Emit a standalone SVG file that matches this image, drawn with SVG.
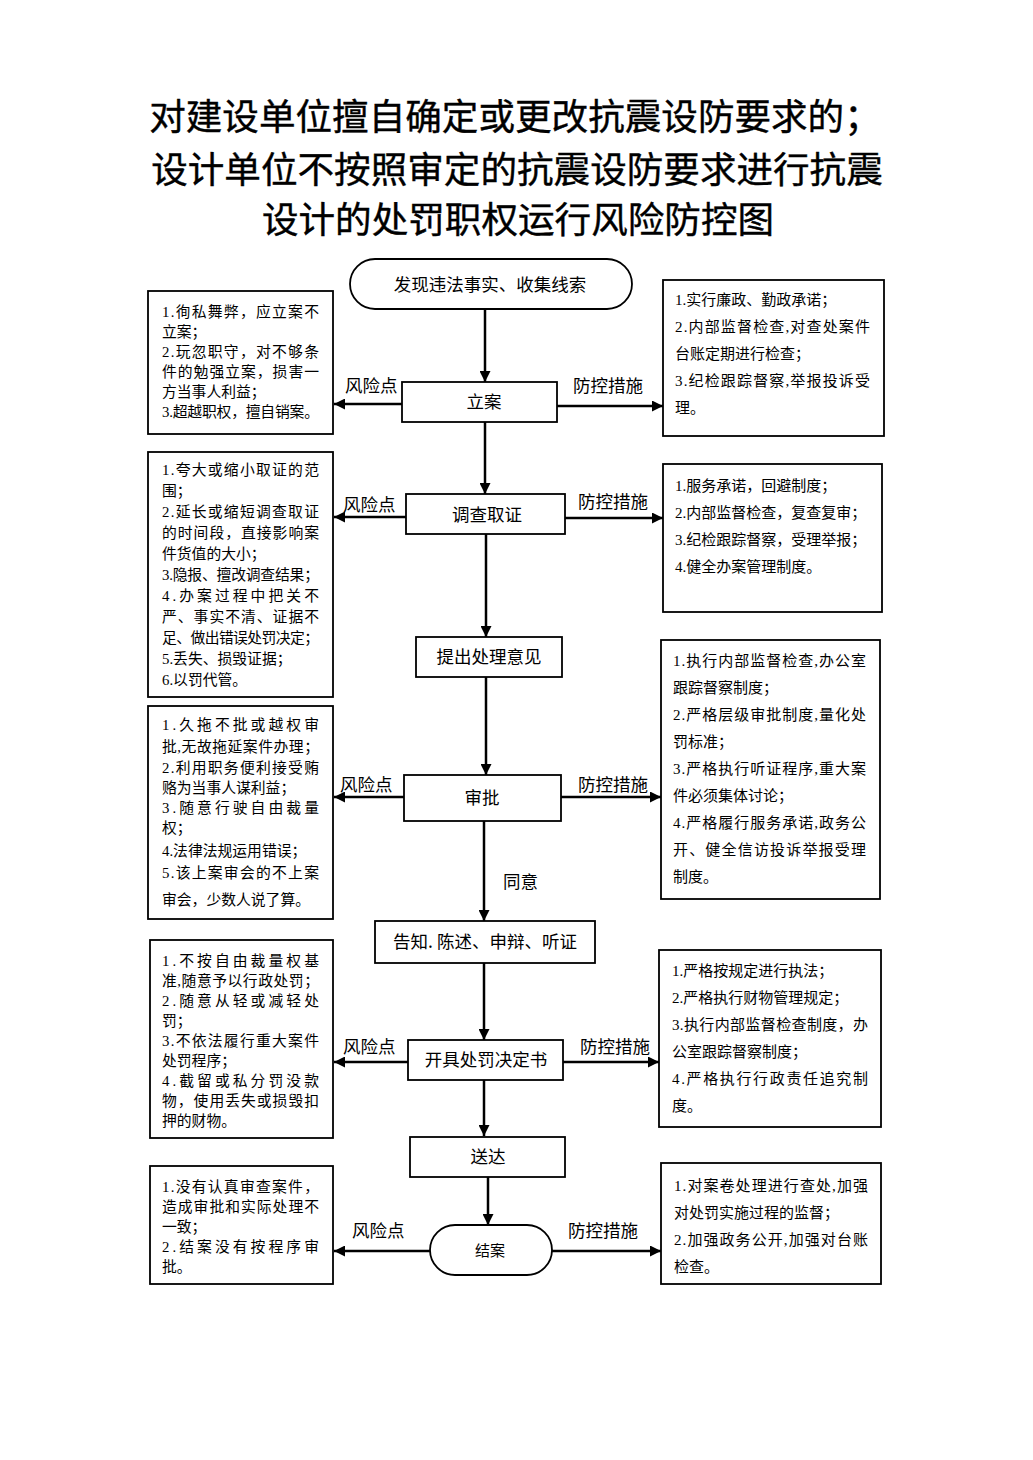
<svg xmlns="http://www.w3.org/2000/svg" width="1033" height="1460" viewBox="0 0 1033 1460">
<style>
.box{fill:#fff;stroke:#000;stroke-width:1.8}
.conn{stroke:#000;stroke-width:2.5;fill:none;marker-end:url(#ah)}
.title{font-family:"Noto Sans CJK SC",sans-serif;font-size:36.6px;font-weight:400;text-anchor:middle;fill:#000;stroke:#000;stroke-width:0.4}
.n{font-family:"Noto Sans CJK SC",sans-serif;font-size:17.5px;text-anchor:middle;fill:#000}
.lb{font-family:"Noto Sans CJK SC",sans-serif;font-size:17.5px;fill:#000}
.tl{font-family:"Liberation Serif","Noto Sans CJK SC",serif;font-size:14.8px;fill:#000}
.tr{font-family:"Liberation Serif","Noto Sans CJK SC",serif;font-size:15px;fill:#000}
</style>
<defs>
<marker id="ah" viewBox="0 0 10 10" refX="10" refY="5" markerWidth="5" markerHeight="4.4" orient="auto" markerUnits="strokeWidth">
<path d="M0,0 L10,5 L0,10 z" fill="#000"/>
</marker>
</defs>
<rect width="1033" height="1460" fill="#fff"/>

<g id="title">
<text class="title" x="515" y="130">对建设单位擅自确定或更改抗震设防要求的；</text>
<text class="title" x="517" y="183">设计单位不按照审定的抗震设防要求进行抗震</text>
<text class="title" x="518" y="233">设计的处罚职权运行风险防控图</text>
</g>

<g id="connectors">
<path class="conn" d="M485,309 V382"/>
<path class="conn" d="M402,404 H334"/>
<path class="conn" d="M557,406 H663"/>
<path class="conn" d="M485,422 V494"/>
<path class="conn" d="M406,517 H334"/>
<path class="conn" d="M565,518 H663"/>
<path class="conn" d="M486,534 V637"/>
<path class="conn" d="M486,677 V775"/>
<path class="conn" d="M404,797 H334"/>
<path class="conn" d="M561,797 H661"/>
<path class="conn" d="M484,821 V921"/>
<path class="conn" d="M484,963 V1040"/>
<path class="conn" d="M408,1062 H334"/>
<path class="conn" d="M563,1062 H659"/>
<path class="conn" d="M484,1080 V1136"/>
<path class="conn" d="M488,1177 V1225"/>
<path class="conn" d="M430,1251 H334"/>
<path class="conn" d="M552,1251 H661"/>
<text class="lb" x="345" y="392">风险点</text>
<text class="lb" x="573" y="392">防控措施</text>
<text class="lb" x="343" y="511">风险点</text>
<text class="lb" x="578" y="508">防控措施</text>
<text class="lb" x="340" y="791">风险点</text>
<text class="lb" x="578" y="791">防控措施</text>
<text class="lb" x="503" y="888">同意</text>
<text class="lb" x="343" y="1053">风险点</text>
<text class="lb" x="580" y="1053">防控措施</text>
<text class="lb" x="352" y="1237">风险点</text>
<text class="lb" x="568" y="1237">防控措施</text>
</g>

<g id="start">
<rect class="box" x="350" y="259" width="282" height="50" rx="25" ry="25"/>
<text class="n" x="490" y="291">发现违法事实、收集线索</text>
</g>
<g id="lian">
<rect class="box" x="402" y="382" width="155" height="40"/>
<text class="n" x="484" y="408">立案</text>
</g>
<g id="diaocha">
<rect class="box" x="406" y="494" width="159" height="40"/>
<text class="n" x="487" y="521">调查取证</text>
</g>
<g id="tichu">
<rect class="box" x="416" y="637" width="146" height="40"/>
<text class="n" x="489" y="663">提出处理意见</text>
</g>
<g id="shenpi">
<rect class="box" x="404" y="775" width="157" height="46"/>
<text class="n" x="482" y="804">审批</text>
</g>
<g id="gaozhi">
<rect class="box" x="375" y="921" width="220" height="42"/>
<text class="n" x="485" y="948">告知. 陈述、申辩、听证</text>
</g>
<g id="kaiju">
<rect class="box" x="408" y="1040" width="155" height="40"/>
<text class="n" x="486" y="1066">开具处罚决定书</text>
</g>
<g id="songda">
<rect class="box" x="410" y="1137" width="155" height="40"/>
<text class="n" x="488" y="1163">送达</text>
</g>
<g id="jiean">
<rect class="box" x="430" y="1225" width="122" height="50" rx="25" ry="25"/>
<text class="n" x="490" y="1256" style="font-size:15px">结案</text>
</g>

<g id="risk1">
<rect class="box" x="148" y="291" width="185" height="143"/>
<text class="tl" x="162" y="317" textLength="157">1.徇私舞弊，应立案不</text>
<text class="tl" x="162" y="337">立案；</text>
<text class="tl" x="162" y="357" textLength="157">2.玩忽职守，对不够条</text>
<text class="tl" x="162" y="377" textLength="157">件的勉强立案，损害一</text>
<text class="tl" x="162" y="397">方当事人利益；</text>
<text class="tl" x="162" y="417" textLength="157">3.超越职权，擅自销案。</text>
</g>
<g id="ctrl1">
<rect class="box" x="663" y="280" width="221" height="156"/>
<text class="tr" x="675" y="305">1.实行廉政、勤政承诺；</text>
<text class="tr" x="675" y="332" textLength="195">2.内部监督检查,对查处案件</text>
<text class="tr" x="675" y="359">台账定期进行检查；</text>
<text class="tr" x="675" y="386" textLength="195">3.纪检跟踪督察,举报投诉受</text>
<text class="tr" x="675" y="413">理。</text>
</g>

<g id="risk2">
<rect class="box" x="148" y="452" width="185" height="245"/>
<text class="tl" x="162" y="475" textLength="157">1.夸大或缩小取证的范</text>
<text class="tl" x="162" y="496">围；</text>
<text class="tl" x="162" y="517" textLength="157">2.延长或缩短调查取证</text>
<text class="tl" x="162" y="538" textLength="157">的时间段，直接影响案</text>
<text class="tl" x="162" y="559">件货值的大小；</text>
<text class="tl" x="162" y="580" textLength="157">3.隐报、擅改调查结果；</text>
<text class="tl" x="162" y="601" textLength="157">4.办案过程中把关不</text>
<text class="tl" x="162" y="622" textLength="157">严、事实不清、证据不</text>
<text class="tl" x="162" y="643" textLength="157">足、做出错误处罚决定；</text>
<text class="tl" x="162" y="664">5.丢失、损毁证据；</text>
<text class="tl" x="162" y="685">6.以罚代管。</text>
</g>
<g id="ctrl2">
<rect class="box" x="663" y="464" width="219" height="148"/>
<text class="tr" x="675" y="491">1.服务承诺，回避制度；</text>
<text class="tr" x="675" y="518">2.内部监督检查，复查复审；</text>
<text class="tr" x="675" y="545">3.纪检跟踪督察，受理举报；</text>
<text class="tr" x="675" y="572">4.健全办案管理制度。</text>
</g>

<g id="ctrl3">
<rect class="box" x="661" y="640" width="219" height="259"/>
<text class="tr" x="673" y="666" textLength="193">1.执行内部监督检查,办公室</text>
<text class="tr" x="673" y="693">跟踪督察制度；</text>
<text class="tr" x="673" y="720" textLength="193">2.严格层级审批制度,量化处</text>
<text class="tr" x="673" y="747">罚标准；</text>
<text class="tr" x="673" y="774" textLength="193">3.严格执行听证程序,重大案</text>
<text class="tr" x="673" y="801">件必须集体讨论；</text>
<text class="tr" x="673" y="828" textLength="193">4.严格履行服务承诺,政务公</text>
<text class="tr" x="673" y="855" textLength="193">开、健全信访投诉举报受理</text>
<text class="tr" x="673" y="882">制度。</text>
</g>
<g id="risk3">
<rect class="box" x="148" y="706" width="185" height="213"/>
<text class="tl" x="162" y="730" textLength="157">1.久拖不批或越权审</text>
<text class="tl" x="162" y="752" textLength="157">批,无故拖延案件办理；</text>
<text class="tl" x="162" y="773" textLength="157">2.利用职务便利接受贿</text>
<text class="tl" x="162" y="793">赂为当事人谋利益；</text>
<text class="tl" x="162" y="813" textLength="157">3.随意行驶自由裁量</text>
<text class="tl" x="162" y="833">权；</text>
<text class="tl" x="162" y="856">4.法律法规运用错误；</text>
<text class="tl" x="162" y="878" textLength="157">5.该上案审会的不上案</text>
<text class="tl" x="162" y="905">审会，少数人说了算。</text>
</g>

<g id="risk4">
<rect class="box" x="150" y="940" width="183" height="198"/>
<text class="tl" x="162" y="966" textLength="157">1.不按自由裁量权基</text>
<text class="tl" x="162" y="986" textLength="157">准,随意予以行政处罚；</text>
<text class="tl" x="162" y="1006" textLength="157">2.随意从轻或减轻处</text>
<text class="tl" x="162" y="1026">罚；</text>
<text class="tl" x="162" y="1046" textLength="157">3.不依法履行重大案件</text>
<text class="tl" x="162" y="1066">处罚程序；</text>
<text class="tl" x="162" y="1086" textLength="157">4.截留或私分罚没款</text>
<text class="tl" x="162" y="1106" textLength="157">物，使用丢失或损毁扣</text>
<text class="tl" x="162" y="1126">押的财物。</text>
</g>
<g id="ctrl4">
<rect class="box" x="659" y="950" width="222" height="177"/>
<text class="tr" x="672" y="976">1.严格按规定进行执法；</text>
<text class="tr" x="672" y="1003">2.严格执行财物管理规定；</text>
<text class="tr" x="672" y="1030" textLength="196">3.执行内部监督检查制度，办</text>
<text class="tr" x="672" y="1057">公室跟踪督察制度；</text>
<text class="tr" x="672" y="1084" textLength="196">4.严格执行行政责任追究制</text>
<text class="tr" x="672" y="1111">度。</text>
</g>

<g id="risk5">
<rect class="box" x="150" y="1166" width="183" height="118"/>
<text class="tl" x="162" y="1192" textLength="157">1.没有认真审查案件，</text>
<text class="tl" x="162" y="1212" textLength="157">造成审批和实际处理不</text>
<text class="tl" x="162" y="1232">一致；</text>
<text class="tl" x="162" y="1252" textLength="157">2.结案没有按程序审</text>
<text class="tl" x="162" y="1272">批。</text>
</g>
<g id="ctrl5">
<rect class="box" x="661" y="1163" width="220" height="121"/>
<text class="tr" x="674" y="1191" textLength="194">1.对案卷处理进行查处,加强</text>
<text class="tr" x="674" y="1218">对处罚实施过程的监督；</text>
<text class="tr" x="674" y="1245" textLength="194">2.加强政务公开,加强对台账</text>
<text class="tr" x="674" y="1272">检查。</text>
</g>
</svg>
